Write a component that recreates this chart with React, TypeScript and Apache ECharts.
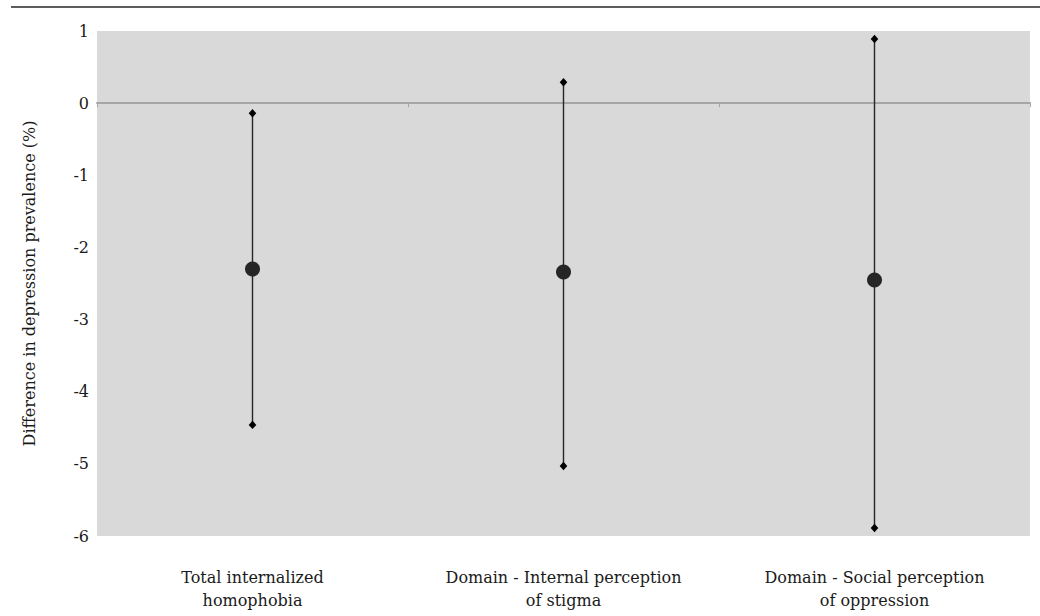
import React, { useEffect, useRef } from "react";
import * as echarts from "echarts";

const categories = [
  "Total internalized\nhomophobia",
  "Domain - Internal perception\nof stigma",
  "Domain - Social perception\nof oppression",
];
const estimates = [-2.3, -2.34, -2.45];
const lowerCI = [-4.46, -5.03, -5.89];
const upperCI = [-0.14, 0.29, 0.89];
const yTicks = { min: -6, max: 1, interval: 1 };

const FONT = "DejaVu Serif";
const FS = 16;

export default function App() {
  const ref = useRef<HTMLDivElement>(null);
  useEffect(() => {
    if (!ref.current) return;
    const chart = echarts.init(ref.current, undefined, { renderer: "svg" });
    const ciData = categories.map((_, i) => [i, lowerCI[i], upperCI[i]]);
    chart.setOption({
      animation: false,
      backgroundColor: "#ffffff",
      textStyle: { fontFamily: FONT },
      grid: {
        left: 97,
        right: 10,
        top: 31,
        bottom: 80,
        show: true,
        backgroundColor: "#d9d9d9",
        borderWidth: 0,
      },
      graphic: [
        {
          type: "line",
          shape: { x1: 11, y1: 7, x2: 1040, y2: 7 },
          style: { stroke: "#5e5e5e", lineWidth: 2 },
        },
      ],
      xAxis: [
        {
          type: "category",
          data: categories,
          position: "bottom",
          boundaryGap: true,
          axisLine: { show: true, onZero: true, lineStyle: { color: "#a6a6a6", width: 2 } },
          axisTick: { show: true, length: 4, lineStyle: { color: "#a6a6a6", width: 1 } },
          axisLabel: { show: false },
          splitLine: { show: false },
        },
        {
          type: "category",
          data: categories,
          position: "bottom",
          boundaryGap: true,
          axisLine: { show: false, onZero: false },
          axisTick: { show: false },
          axisLabel: {
            show: true,
            interval: 0,
            hideOverlap: false,
            margin: 30,
            fontFamily: FONT,
            fontSize: FS,
            lineHeight: 23,
            color: "#1a1a1a",
            align: "center",
          },
          splitLine: { show: false },
        },
      ],
      yAxis: {
        type: "value",
        min: yTicks.min,
        max: yTicks.max,
        interval: yTicks.interval,
        name: "Difference in depression prevalence (%)",
        nameLocation: "middle",
        nameGap: 60,
        nameTextStyle: { fontFamily: FONT, fontSize: FS, color: "#1a1a1a" },
        axisLine: { show: false },
        axisTick: { show: false },
        splitLine: { show: false },
        axisLabel: { margin: 8, fontFamily: FONT, fontSize: FS, color: "#1a1a1a" },
      },
      series: [
        {
          type: "custom",
          xAxisIndex: 0,
          data: ciData,
          encode: { x: 0, y: [1, 2] },
          renderItem: (params: any, api: any) => {
            const idx = api.value(0);
            const lo = api.coord([idx, api.value(1)]);
            const hi = api.coord([idx, api.value(2)]);
            const dw = 3.8;
            const dh = 4.2;
            const diamond = (p: number[]) => ({
              type: "polygon",
              shape: {
                points: [
                  [p[0], p[1] - dh],
                  [p[0] + dw, p[1]],
                  [p[0], p[1] + dh],
                  [p[0] - dw, p[1]],
                ],
              },
              style: { fill: "#000000" },
            });
            return {
              type: "group",
              children: [
                {
                  type: "line",
                  shape: { x1: lo[0], y1: lo[1], x2: hi[0], y2: hi[1] },
                  style: { stroke: "#262626", lineWidth: 1.4 },
                },
                diamond(lo),
                diamond(hi),
              ],
            };
          },
          z: 2,
        },
        {
          type: "scatter",
          xAxisIndex: 0,
          data: estimates.map((v, i) => [i, v]),
          symbol: "circle",
          symbolSize: 15,
          itemStyle: { color: "#262626", opacity: 1 },
          z: 3,
        },
      ],
    });
    return () => chart.dispose();
  }, []);
  return (
    <div
      ref={ref}
      style={{ position: "fixed", left: 0, top: 0, width: 1040, height: 616 }}
    />
  );
}
